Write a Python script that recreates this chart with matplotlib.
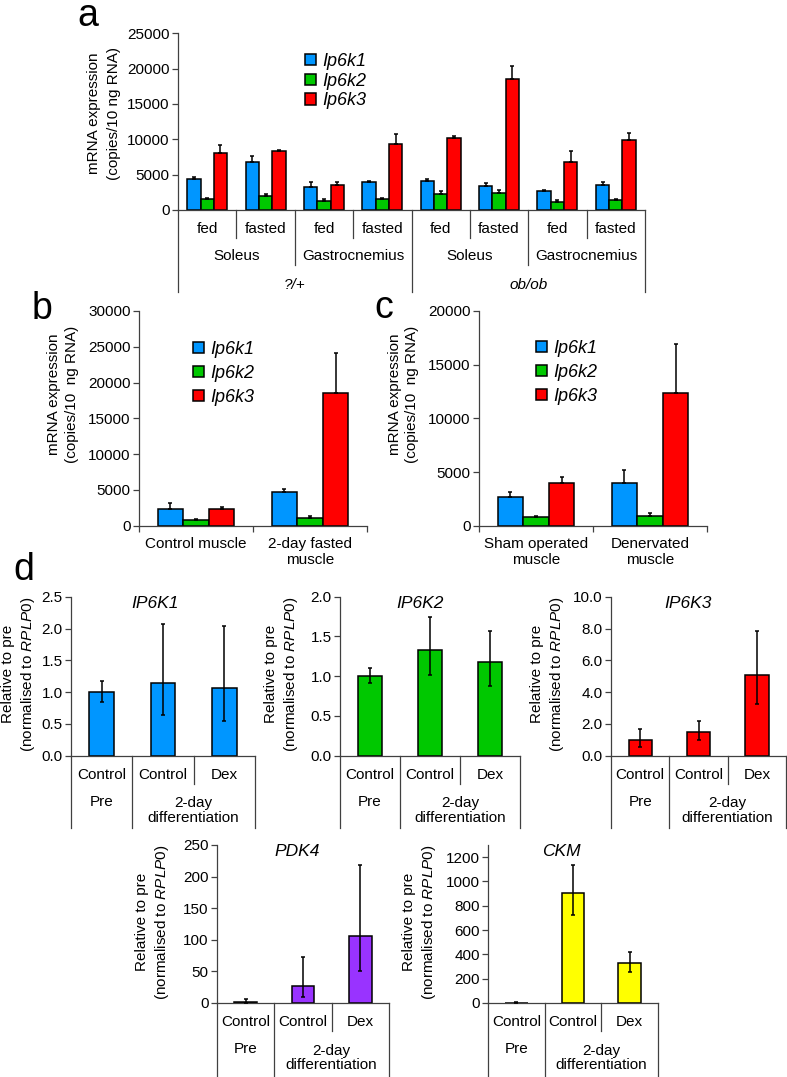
import numpy as np
import matplotlib
matplotlib.use('Agg')
import matplotlib.pyplot as plt

plt.rcParams['font.family'] = ['Liberation Sans', 'DejaVu Sans']
plt.rcParams['mathtext.fontset'] = 'custom'
plt.rcParams['mathtext.rm'] = 'Liberation Sans'
plt.rcParams['mathtext.it'] = 'Liberation Sans:italic'

W, H = 787, 1077

# ---- data ----
genes = ['Ip6k1', 'Ip6k2', 'Ip6k3']
gene_colors = ['#0096FF', '#00C800', '#FF0000']

# panel a
a_states = ['fed', 'fasted', 'fed', 'fasted', 'fed', 'fasted', 'fed', 'fasted']
a_tissues = ['Soleus', 'Gastrocnemius', 'Soleus', 'Gastrocnemius']
a_genotypes = ['?/+', 'ob/ob']
a_ip6k1 = [4400, 6750, 3200, 3960, 4100, 3400, 2640, 3580]
a_ip6k1_err = [320, 850, 700, 140, 240, 420, 140, 420]
a_ip6k2 = [1510, 2030, 1230, 1500, 2310, 2450, 1180, 1370]
a_ip6k2_err = [190, 190, 270, 150, 330, 330, 280, 230]
a_ip6k3 = [8020, 8400, 3540, 9340, 10190, 18490, 6790, 9900]
a_ip6k3_err = [1130, 100, 360, 1460, 280, 1930, 1610, 1040]

# panel b
b_groups = ['Control muscle', '2-day fasted\nmuscle']
b_ip6k1 = [2380, 4660]
b_ip6k1_err = [820, 460]
b_ip6k2 = [790, 1120]
b_ip6k2_err = [90, 230]
b_ip6k3 = [2330, 18580]
b_ip6k3_err = [270, 5590]

# panel c
c_groups = ['Sham operated\nmuscle', 'Denervated\nmuscle']
c_ip6k1 = [2670, 3980]
c_ip6k1_err = [430, 1210]
c_ip6k2 = [780, 900]
c_ip6k2_err = [150, 310]
c_ip6k3 = [4000, 12330]
c_ip6k3_err = [500, 4630]

# panel d
d_treat = ['Control', 'Control', 'Dex']
d_stage = ['Pre', '2-day\ndifferentiation']
d_names = ['IP6K1', 'IP6K2', 'IP6K3', 'PDK4', 'CKM']
d_colors = ['#0096FF', '#00C800', '#FF0000', '#9933FF', '#FFFF00']
d_vals = [[1.0, 1.15, 1.06], [1.0, 1.333, 1.18], [1.0, 1.47, 5.07],
          [1.0, 26.5, 106], [1.0, 905, 333]]
d_low = [[0.84, 0.645, 0.545], [0.914, 1.01, 0.88], [0.57, 0.96, 3.25],
         [0.0, 9.5, 51], [0.0, 725, 259]]
d_high = [[1.17, 2.07, 2.04], [1.1, 1.744, 1.57], [1.68, 2.18, 7.86],
          [5.8, 72, 218], [6, 1134, 417]]
d_ylim = [2.5, 2.0, 10.0, 250, 1300]
d_ystep = [0.5, 0.5, 2.0, 50, 200]
d_ytop = [2.5, 2.0, 10.0, 250, 1200]
d_fmt = ['%.1f', '%.1f', '%.1f', '%d', '%d']

AX_C = '#404040'
fig = plt.figure(figsize=(W / 100, H / 100), dpi=100)


def new_axes(l, t, r, b):
    return fig.add_axes([l / W, 1 - b / H, (r - l) / W, (b - t) / H])


def ftext(x, y, s, **kw):
    fig.text(x / W, 1 - y / H, s, **kw)


def style(ax):
    for s in ['top', 'right']:
        ax.spines[s].set_visible(False)
    for s in ['left', 'bottom']:
        ax.spines[s].set_color(AX_C)
        ax.spines[s].set_linewidth(0.9)
    ax.tick_params(axis='y', direction='out', length=4, width=0.9,
                   color=AX_C, labelsize=11, pad=2)


def vline(ax, x, depth):
    h = ax.get_position().height * H
    ax.plot([x, x], [0, -depth / h], transform=ax.get_xaxis_transform(),
            clip_on=False, color=AX_C, lw=0.9)


def below(ax, x, depth, s, **kw):
    h = ax.get_position().height * H
    ax.text(x, -depth / h, s, transform=ax.get_xaxis_transform(),
            ha='center', va='center', fontsize=11, **kw)


def grouped(ax, series, errs, width):
    n = len(series[0])
    x = np.arange(n) + 0.5
    handles = []
    for j, (vals, err, col) in enumerate(zip(series, errs, gene_colors)):
        pos = x + (j - 1) * width
        bb = ax.bar(pos, vals, width, color=col, edgecolor='black',
                    linewidth=1.1, zorder=2)
        ax.errorbar(pos, vals, yerr=[np.zeros(n), err], fmt='none',
                    ecolor='black', elinewidth=1.1, capsize=1.6,
                    capthick=1.1, zorder=3)
        handles.append(bb)
    ax.set_xlim(0, n)
    return handles


def legend(ax, handles, x, y, spacing):
    ax.legend(handles, genes, loc='upper left',
              bbox_to_anchor=(x / W, 1 - y / H), bbox_transform=fig.transFigure,
              frameon=False, prop={'style': 'italic', 'size': 13},
              handlelength=0.6, handleheight=0.6, handletextpad=0.35,
              labelspacing=spacing, borderpad=0, borderaxespad=0)


# ---- panel a ----
ax = new_axes(178, 33.3, 645, 210)
style(ax)
h = grouped(ax, [a_ip6k1, a_ip6k2, a_ip6k3],
            [a_ip6k1_err, a_ip6k2_err, a_ip6k3_err], 0.228)
ax.set_ylim(0, 25000)
ax.set_yticks(np.arange(0, 25001, 5000))
ax.set_xticks([])
for i in range(9):
    depth = 82 if i % 4 == 0 else (55 if i % 2 == 0 else 28)
    vline(ax, i, depth)
for i, s in enumerate(a_states):
    below(ax, i + 0.5, 19, s)
for i, s in enumerate(a_tissues):
    below(ax, 2 * i + 1, 46, s)
for i, s in enumerate(a_genotypes):
    below(ax, 4 * i + 2, 75, s, style='italic')
legend(ax, h, 305, 53, 0.15)
ftext(104, 113, 'mRNA expression\n(copies/10 ng RNA)', rotation=90,
      ha='center', va='center', fontsize=11, linespacing=1.5)
ftext(77, 26, 'a', fontsize=27, va='baseline')


# ---- panels b and c ----
def panel_bc(box, groups, series, errs, ymax, step, leg_xy, lab_x):
    ax = new_axes(*box)
    style(ax)
    hh = grouped(ax, series, errs, 0.225)
    ax.set_ylim(0, ymax)
    ax.set_yticks(np.arange(0, ymax + 1, step))
    ax.set_xticks([0, 1, 2])
    ax.set_xticklabels([])
    ax.tick_params(axis='x', direction='out', length=4, width=0.9, color=AX_C)
    ax.set_xticks([0.5, 1.5], minor=True)
    ax.set_xticklabels(groups, minor=True, fontsize=11, va='top')
    ax.tick_params(axis='x', which='minor', length=0, pad=8)
    legend(ax, hh, leg_xy[0], leg_xy[1], 0.38)
    ftext(lab_x, 394, 'mRNA expression\n(copies/10  ng RNA)', rotation=90,
          ha='center', va='center', fontsize=11, linespacing=1.35)
    return ax


panel_bc((139, 311, 367, 525.7), b_groups, [b_ip6k1, b_ip6k2, b_ip6k3],
         [b_ip6k1_err, b_ip6k2_err, b_ip6k3_err], 30000, 5000, (193, 341), 63)
ftext(32, 319, 'b', fontsize=27, va='baseline')
panel_bc((479, 311, 707, 525.7), c_groups, [c_ip6k1, c_ip6k2, c_ip6k3],
         [c_ip6k1_err, c_ip6k2_err, c_ip6k3_err], 20000, 5000, (536, 340), 403.5)
ftext(374, 318, 'c', fontsize=27, va='baseline')

# ---- panel d ----
d_boxes = [(71, 596.7, 255, 755.7), (340, 596.7, 520, 755.7),
           (611, 596.7, 786, 755.7), (217, 845, 389, 1003),
           (488, 845, 658, 1003)]
d_title_x = [155, 420, 688, 297, 561]
d_label_x = [19, 282, 548, 153, 420]
d_full = [72, 72, 72, 74, 74]

for k in range(5):
    l, t, r, b = d_boxes[k]
    ax = new_axes(l, t, r, b)
    style(ax)
    v = np.array(d_vals[k])
    x = np.arange(3) + 0.5
    ax.bar(x, v, 0.4, color=d_colors[k], edgecolor='black', linewidth=1.1, zorder=2)
    ax.errorbar(x, v, yerr=[v - np.array(d_low[k]), np.array(d_high[k]) - v],
                fmt='none', ecolor='black', elinewidth=1.1, capsize=1.6,
                capthick=1.1, zorder=3)
    ax.set_xlim(0, 3)
    ax.set_ylim(0, d_ylim[k])
    ticks = np.arange(0, d_ytop[k] + d_ystep[k] / 2, d_ystep[k])
    ax.set_yticks(ticks)
    ax.set_yticklabels([d_fmt[k] % t_ for t_ in ticks])
    ax.set_xticks([])
    vline(ax, 0, d_full[k])
    vline(ax, 1, d_full[k])
    vline(ax, 2, 28)
    vline(ax, 3, d_full[k])
    for i, s in enumerate(d_treat):
        below(ax, i + 0.5, 19, s)
    below(ax, 0.5, 46, d_stage[0])
    below(ax, 2.0, 55, d_stage[1], linespacing=1.05)
    ftext(d_title_x[k], t + 7, d_names[k], fontsize=12.5, style='italic',
          ha='center', va='center')
    ftext(d_label_x[k], (t + b) / 2 - 2,
          'Relative to pre\n(normalised to $\\mathit{RPLP0}$)', rotation=90,
          ha='center', va='center', fontsize=11, linespacing=1.3)

ftext(13, 580, 'd', fontsize=27, va='baseline')

fig.savefig('out.png', dpi=100)
